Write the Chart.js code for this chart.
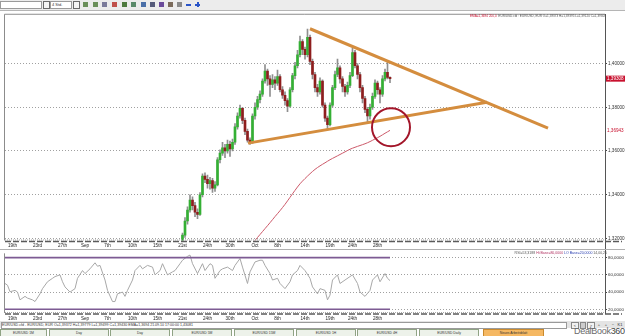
<!DOCTYPE html>
<html><head><meta charset="utf-8">
<script src="https://cdn.jsdelivr.net/npm/chart.js@4.4.0/dist/chart.umd.min.js"></script>
<style>
html,body{margin:0;padding:0;width:625px;height:336px;overflow:hidden;background:#fff;font-family:"Liberation Sans",Arial,sans-serif;}
canvas{display:block;}
.abs{position:absolute;}
#toolbar{left:0;top:0;width:625px;height:10px;background:#ececec;border-bottom:1px solid #b5b5b5;}
.box{position:absolute;top:1px;height:6px;background:#fff;border:1px solid #9a9a9a;font-size:4px;line-height:6px;color:#333;padding-left:1px;}
.dd{position:absolute;top:1px;width:5px;height:6px;background:#f4f4f4;border:1px solid #6a6a6a;}
.ic{position:absolute;top:2px;width:5px;height:5px;}
#chartWrap{left:0;top:11px;width:625px;height:310px;}
#sep{left:0;top:249px;width:625px;height:1px;background:#b0b0b0;}
.hdr{position:absolute;white-space:nowrap;color:#555;}
#status{left:0;top:321px;width:625px;height:7px;background:#e4e4e4;}
#statusBox{left:1px;top:322px;width:564px;height:5px;background:#fff;border:1px solid #9a9a9a;font-size:3.6px;line-height:5px;color:#333;white-space:nowrap;overflow:hidden;}
.sb{position:absolute;top:322px;width:6px;height:5px;border:1px solid #888;background:#f2f2f2;font-size:4px;line-height:5px;text-align:center;color:#333;}
.tab{position:absolute;top:329px;height:6px;width:58px;background:#edf2ea;border:1px solid #8fa384;font-size:3.4px;line-height:6px;text-align:center;color:#333;white-space:nowrap;overflow:hidden;}
.tl{position:absolute;width:20px;text-align:center;font-size:4.6px;line-height:5px;color:#222;white-space:nowrap;z-index:5;}
</style></head>
<body>
<div id="toolbar" class="abs">
  <div class="box" style="left:0;width:39px;"></div>
  <div class="dd" style="left:43px;"></div>
  <div class="box" style="left:50px;width:19px;">4 Std.</div>
  <div class="dd" style="left:73px;"></div>
  <div class="ic" style="left:83px;background:#6a8f5a;"></div>
  <div class="ic" style="left:93px;background:#6a8f5a;"></div>
  <div class="ic" style="left:102px;background:#7a7a9a;"></div>
  <div class="ic" style="left:112px;background:#c0504a;"></div>
  <div class="ic" style="left:122px;background:#4e7a3e;"></div>
  <div class="ic" style="left:131px;background:#5a8a6a;"></div>
  <div class="ic" style="left:141px;background:#4a6fa8;"></div>
  <div class="ic" style="left:150px;background:#555a7a;"></div>
  <div class="ic" style="left:159px;background:#6a4a9a;"></div>
  <div class="ic" style="left:168px;background:#7a6a5a;"></div>
  <div class="ic" style="left:177px;background:#8a8a8a;"></div>
  <div class="ic" style="left:186px;top:4px;height:1.5px;background:#2a55c8;"></div>
  <div class="ic" style="left:195px;top:4px;height:1.5px;background:#2a55c8;"></div>
  <div class="ic" style="left:197px;top:2px;width:1.5px;height:5px;background:#2a55c8;"></div>
</div>

<div id="chartWrap" class="abs"><canvas id="chart" width="625" height="310"></canvas></div>
<div id="sep" class="abs"></div>

<div class="hdr" id="mainHdr" style="right:19px;top:14px;font-size:3.1px;"><span style="color:#c8102e">EMA=1,3694 200,0</span>&nbsp; EUR/USD.cfd : EUR/USD, EUR O=1,39373 H=1,39395 L=1,39120 C=1,39308</div>
<div class="hdr" id="rsiHdr" style="right:18px;top:250.5px;font-size:3.5px;">RSI=53,3188 <span style="color:#b03060">Hi Base=80,0000</span> <span style="color:#2a3fb0">LO Base=20,0000</span> 14,00,25</div>

<div id="status" class="abs"></div>
<div id="statusBox" class="abs">EUR/USD.cfd - EUR/USD, EUR O=1,39372 H=1,39779 L=1,39499 C=1,39430 EMA=1,3694 21.09.10 17:00:00 1,43081</div>
<div class="sb" style="left:571px;">&lt;</div>
<div class="sb" style="left:580px;width:4px;background:#ccc;"></div>
<div class="sb" style="left:587px;">&gt;</div>
<div class="sb" style="left:596px;border:none;background:none;">+</div>
<div class="sb" style="left:603px;border:none;background:none;">+</div>
<div class="sb" style="left:610px;border:none;background:none;">−</div>
<div class="sb" style="left:617px;border:none;background:none;">K1</div>

<div class="tab" style="left:0;width:45px;">EUR/USD 1M</div>
<div class="tab" style="left:49px;">Day</div>
<div class="tab" style="left:110px;">Day</div>
<div class="tab" style="left:172px;">EUR/USD 5M</div>
<div class="tab" style="left:234px;">EUR/USD 15M</div>
<div class="tab" style="left:296px;">EUR/USD 1H</div>
<div class="tab" style="left:357px;">EUR/USD 4H</div>
<div class="tab" style="left:419px;">EUR/USD Daily</div>
<div class="tab" style="left:483px;width:59px;background:#f5b863;border-color:#c98a2e;">Neues Arbeitsblatt</div>
<div class="abs" style="left:574px;top:326px;font-size:9px;line-height:10px;color:#6a6a6a;letter-spacing:-0.3px;">DealBook<span style="color:#444">360</span></div>

<script>
// ---- data ----
const xTickPos = [3, 13, 23, 32, 41, 51, 61, 71, 81, 90, 100, 109, 120, 130, 139, 149];
const xLabels = ["19th","23rd","27th","Sep","7th","10th","15th","21st","24th","30th","Oct","8th","14th","19th","24th","28th"];
const yTicks = [1.32, 1.34, 1.36, 1.38, 1.40];
const rsiTicks = [20, 30, 40, 50, 60, 70, 80];
const firstCandle = 71;
const opens = [1.3185,1.3215,1.3280,1.3330,1.3375,1.3350,1.3320,1.3310,1.3400,1.3485,
 1.3470,1.3450,1.3465,1.3430,1.3445,1.3560,1.3590,1.3615,1.3600,1.3630,
 1.3610,1.3640,1.3710,1.3760,1.3795,1.3740,1.3690,1.3650,1.3640,1.3760,
 1.3800,1.3835,1.3860,1.3920,1.3965,1.3930,1.3905,1.3925,1.3910,1.3940,
 1.3880,1.3855,1.3830,1.3805,1.3880,1.3945,1.3990,1.4040,1.4100,1.4065,
 1.4040,1.4120,1.4010,1.3950,1.3890,1.3870,1.3920,1.3810,1.3750,1.3720,
 1.3810,1.3890,1.3950,1.3980,1.3930,1.3895,1.3870,1.3900,1.3945,1.4050,
 1.3990,1.3950,1.3890,1.3840,1.3790,1.3760,1.3800,1.3850,1.3910,1.3880,
 1.3860,1.3930,1.3960,1.39373];
const highs = [1.3225,1.3295,1.3345,1.3400,1.3390,1.3365,1.3335,1.3410,1.3495,1.3500,
 1.3490,1.3480,1.3475,1.3460,1.3570,1.3605,1.3640,1.3630,1.3650,1.3645,
 1.3655,1.3725,1.3775,1.3810,1.3800,1.3750,1.3700,1.3660,1.3770,1.3820,
 1.3850,1.3875,1.3930,1.3995,1.3975,1.3945,1.3950,1.3940,1.3970,1.3950,
 1.3895,1.3870,1.3840,1.3890,1.3955,1.4005,1.4060,1.4125,1.4110,1.4075,
 1.4157,1.4130,1.4020,1.3960,1.3905,1.3935,1.3925,1.3820,1.3760,1.3820,
 1.3900,1.3965,1.4020,1.3990,1.3940,1.3905,1.3915,1.3960,1.4070,1.4060,
 1.4000,1.3960,1.3900,1.3850,1.3800,1.3815,1.3865,1.3925,1.3920,1.3890,
 1.3945,1.3975,1.4005,1.39395];
const lows = [1.3180,1.3205,1.3265,1.3320,1.3330,1.3300,1.3290,1.3305,1.3390,1.3455,
 1.3430,1.3425,1.3410,1.3415,1.3440,1.3545,1.3580,1.3570,1.3590,1.3575,
 1.3600,1.3630,1.3700,1.3750,1.3725,1.3675,1.3640,1.3630,1.3635,1.3745,
 1.3790,1.3820,1.3850,1.3910,1.3900,1.3850,1.3890,1.3880,1.3900,1.3870,
 1.3840,1.3810,1.3780,1.3800,1.3870,1.3930,1.3980,1.4030,1.4040,1.4020,
 1.4030,1.3995,1.3930,1.3870,1.3850,1.3860,1.3800,1.3735,1.3700,1.3715,
 1.3800,1.3880,1.3940,1.3910,1.3870,1.3850,1.3860,1.3890,1.3940,1.3980,
 1.3930,1.3870,1.3820,1.3775,1.3730,1.3745,1.3790,1.3840,1.3860,1.3820,
 1.3850,1.3920,1.3930,1.39120];
const closes = [1.3215,1.3280,1.3330,1.3375,1.3350,1.3320,1.3310,1.3400,1.3485,1.3470,
 1.3450,1.3465,1.3430,1.3445,1.3560,1.3590,1.3615,1.3600,1.3630,1.3610,
 1.3640,1.3710,1.3760,1.3795,1.3740,1.3690,1.3650,1.3640,1.3760,1.3800,
 1.3835,1.3860,1.3920,1.3965,1.3930,1.3905,1.3925,1.3910,1.3940,1.3880,
 1.3855,1.3830,1.3805,1.3880,1.3945,1.3990,1.4040,1.4100,1.4065,1.4040,
 1.4120,1.4010,1.3950,1.3890,1.3870,1.3920,1.3810,1.3750,1.3720,1.3810,
 1.3890,1.3950,1.3980,1.3930,1.3895,1.3870,1.3900,1.3945,1.4050,1.3990,
 1.3950,1.3890,1.3840,1.3790,1.3760,1.3800,1.3850,1.3910,1.3880,1.3860,
 1.3930,1.3960,1.3937,1.39308];
const emaIdx = [98,100,102,104,106,108,110,112,114,116,118,120,122,124,126,128,130,132,134,136,138,140,142,144,146,148,150,152,154];
const emaVals = [1.3164,1.3191,1.3218,1.3245,1.3272,1.3300,1.3327,1.3356,1.3388,1.3420,1.3450,1.3474,1.3496,1.3516,1.3532,1.3546,1.3560,1.3572,1.3584,1.3596,1.3608,1.3617,1.3625,1.3633,1.3643,1.3655,1.3667,1.3681,1.36943];
const trendUpper = [{x:122, y:1.4159}, {x:217.2, y:1.3705}];
const trendLower = [{x:97.2, y:1.3636}, {x:192.8, y:1.3823}];
const markCircle = [{x:154.4, y:1.3709}];
const rsiIdx = [0,1,2,4,5,6,8,9,11,12,14,15,17,19,20,22,23,24,26,28,29,31,32,34,36,37,38,40,41,43,44,45,47,48,49,51,52,54,55,57,59,60,62,63,65,67,68,70,71,73,74,75,77,79,80,82,83,84,86,87,89,91,92,94,95,97,98,100,102,103,104,106,107,109,110,112,114,115,117,118,120,122,123,125,126,128,129,130,131,133,134,136,138,139,141,142,144,146,147,149,150,152,153,154];
const rsiVals = [50,48,40.4,42,40,31,35,33,31,29,38,44,52,56,58,60,52,46,40,44,56,65,61.5,67,74,70,71,54,42,29,29,38,40,35,42,54,65,71,67,71,69,60,65,73,60,63.5,65,73,77,81.5,83,73,61.5,73,65,73,71,56,65,67,69,65,71,79,69,50,63.5,75,77,77,71,61.5,54,56,50,44,52,60,65,71,65,56,46,38,44,42,31,36.5,54,60,50,54,58,60,50,40,35,42,54,60,52,61.5,56,53.32];
const rsiHi = 80, rsiLo = 20;

// ---- helpers ----
const fmt = (v, d) => v.toFixed(d).replace('.', ',');
const FONT = '"Liberation Sans", Arial, sans-serif';
const candleX = opens.map((_, k) => firstCandle + k);
const lastClose = closes[closes.length - 1];
const emaLast = emaVals[emaVals.length - 1];
const RSI_PANEL_TOP = 85;

function dashedAxis(ctx, left, right, yb) {
  ctx.strokeStyle = '#aaa'; ctx.lineWidth = 1; ctx.setLineDash([1, 1]);
  ctx.beginPath(); ctx.moveTo(left, yb - 0.5); ctx.lineTo(right, yb - 0.5); ctx.stroke();
  ctx.strokeStyle = '#5a5a5a'; ctx.lineWidth = 1.6; ctx.setLineDash([6, 2]);
  ctx.beginPath(); ctx.moveTo(left, yb + 1); ctx.lineTo(right + 17, yb + 1); ctx.stroke();
  ctx.setLineDash([]);
}

const panesPlugin = {
  id: 'panes',
  beforeDatasetsDraw(chart) {
    const {ctx, chartArea: a, scales: {y, yr}} = chart;
    const rTop = yr.getPixelForValue(RSI_PANEL_TOP);
    ctx.save();
    ctx.strokeStyle = '#8c8c8c'; ctx.lineWidth = 1;
    ctx.beginPath();
    ctx.moveTo(a.left - 0.5, y.bottom); ctx.lineTo(a.left - 0.5, y.top - 0.5); ctx.lineTo(a.right, y.top - 0.5);
    ctx.moveTo(a.left - 0.5, a.bottom); ctx.lineTo(a.left - 0.5, rTop);
    ctx.stroke();
    ctx.restore();
  },
  afterDraw(chart) {
    const {ctx, chartArea: a, scales: {x, y}} = chart;
    ctx.save();
    dashedAxis(ctx, a.left, a.right, y.bottom);
    dashedAxis(ctx, a.left, a.right, a.bottom);
    ctx.fillStyle = '#222'; ctx.font = '4.6px ' + FONT;
    ctx.textAlign = 'center'; ctx.textBaseline = 'top';
    for (let i = 0; i < xTickPos.length; i++) ctx.fillText(xLabels[i], x.getPixelForValue(xTickPos[i]), y.bottom + 3);
    ctx.font = '4.6px ' + FONT; ctx.textAlign = 'left'; ctx.textBaseline = 'middle';
    const yc = y.getPixelForValue(lastClose);
    ctx.fillStyle = '#c8102e'; ctx.fillRect(a.right + 1, yc - 3, 19, 6);
    ctx.fillStyle = '#fff'; ctx.fillText(fmt(lastClose, 5), a.right + 2, yc);
    const ye = y.getPixelForValue(emaLast);
    ctx.fillStyle = '#c8102e'; ctx.fillText(fmt(emaLast, 5), a.right + 2, ye);
    ctx.restore();
  }
};

const chart = new Chart(document.getElementById('chart'), {
  type: 'bar',
  data: {
    datasets: [
      {type: 'bubble', yAxisID: 'y', data: markCircle.map(p => ({x: p.x, y: p.y, r: 19})), backgroundColor: 'rgba(0,0,0,0)',
       borderColor: '#a3162a', borderWidth: 2, order: 1},
      {type: 'line', yAxisID: 'y', data: trendUpper, borderColor: '#d48d3e', borderWidth: 3, pointRadius: 0, order: 2},
      {type: 'line', yAxisID: 'y', data: trendLower, borderColor: '#d48d3e', borderWidth: 3, pointRadius: 0, order: 2},
      {type: 'line', yAxisID: 'y', data: emaIdx.map((x, k) => ({x, y: emaVals[k]})), borderColor: '#cc5a6a', borderWidth: 1,
       pointRadius: 0, tension: 0.3, order: 3},
      {type: 'bar', yAxisID: 'y', data: candleX.map((x, k) => ({x, y: [opens[k], closes[k]]})),
       backgroundColor: closes.map((c, k) => c >= opens[k] ? '#34b034' : '#8e1e1e'),
       barThickness: 2, minBarLength: 1, grouped: false, order: 4},
      {type: 'bar', yAxisID: 'y', data: candleX.map((x, k) => ({x, y: [lows[k], highs[k]]})),
       backgroundColor: '#8f8f8f', barThickness: 1, grouped: false, order: 5},
      {type: 'line', yAxisID: 'yr', data: [{x: rsiIdx[0], y: rsiHi}, {x: rsiIdx[rsiIdx.length - 1], y: rsiHi}],
       borderColor: '#7d5b93', borderWidth: 1.6, pointRadius: 0, order: 6},
      {type: 'line', yAxisID: 'yr', data: [{x: rsiIdx[0], y: rsiLo}, {x: rsiIdx[rsiIdx.length - 1], y: rsiLo}],
       borderColor: '#7d5b93', borderWidth: 1.6, pointRadius: 0, order: 6},
      {type: 'line', yAxisID: 'yr', data: rsiIdx.map((x, k) => ({x, y: rsiVals[k]})),
       borderColor: '#a8a8a8', borderWidth: 1, pointRadius: 0, order: 7}
    ]
  },
  options: {
    responsive: false, animation: false, events: [],
    layout: {autoPadding: false, padding: {left: 5, top: 2, right: 0, bottom: 0}},
    plugins: {legend: {display: false}, tooltip: {enabled: false}},
    scales: {
      x: {
        type: 'linear', min: 0, max: 240, offset: false,
        afterBuildTicks: s => { s.ticks = xTickPos.map(v => ({value: v})); },
        afterFit: s => { s.height = 8; s.paddingLeft = 0; s.paddingRight = 0; },
        grid: {display: false}, border: {display: false}, ticks: {display: false}
      },
      y: {
        position: 'right', stack: 'panes', stackWeight: 227, min: 1.3191, max: 1.4223,
        afterBuildTicks: s => { s.ticks = yTicks.map(v => ({value: v})); },
        afterFit: s => { s.width = 20; },
        grid: {color: '#a0a0a0', lineWidth: 1, tickLength: 2, tickColor: '#444'},
        border: {display: true, color: '#555', width: 1, dash: [1, 2]},
        ticks: {padding: 1, color: '#333', font: {size: 4.6, family: FONT}, callback: v => fmt(v, 5)}
      },
      yr: {
        position: 'right', stack: 'panes', stackWeight: 73, min: 15.7, max: 100,
        afterBuildTicks: s => { s.ticks = rsiTicks.map(v => ({value: v})); },
        afterFit: s => { s.width = 20; },
        grid: {color: '#a0a0a0', lineWidth: 1, tickLength: 2, tickColor: '#444'},
        border: {display: true, color: '#555', width: 1, dash: [1, 2]},
        ticks: {padding: 1, color: '#333', font: {size: 4.4, family: FONT}, callback: v => fmt(v, 4)}
      }
    }
  },
  plugins: [panesPlugin]
});

// RSI-pane time labels, positioned from the chart's own x scale
(function () {
  const wrap = document.getElementById('chartWrap');
  const xs = chart.scales.x;
  const base = wrap.offsetTop + chart.chartArea.bottom + 2.5;
  xTickPos.forEach((p, i) => {
    const d = document.createElement('div');
    d.className = 'tl';
    d.textContent = xLabels[i];
    d.style.left = (wrap.offsetLeft + xs.getPixelForValue(p) - 10) + 'px';
    d.style.top = base + 'px';
    document.body.appendChild(d);
  });
})();
</script>
</body></html>
